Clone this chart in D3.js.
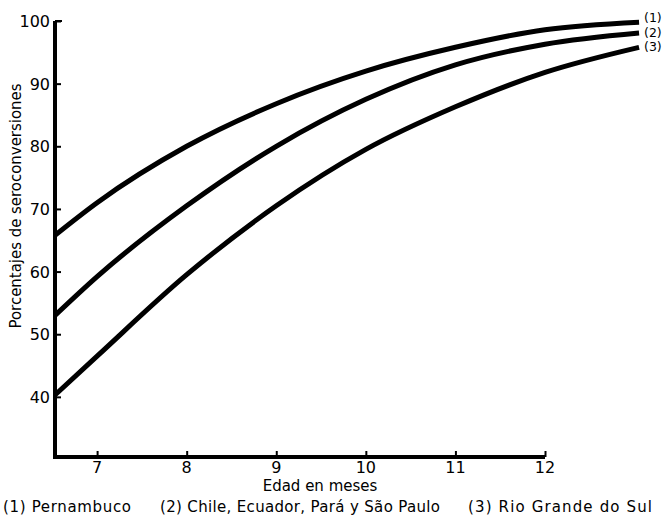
<!DOCTYPE html>
<html>
<head>
<meta charset="utf-8">
<script src="https://cdn.jsdelivr.net/npm/d3@7"></script>
<style>
  body { margin: 0; background: #fff; }
  text { font-family: "DejaVu Sans", "Liberation Sans", sans-serif; fill: #000; }
</style>
</head>
<body>
<div id="chart"></div>
<script>
// data (age in months, % seroconversion)
const months = [6.53, 7, 8, 9, 10, 11, 12, 13.05];
const pernambuco = [65.8, 71.0, 80.0, 86.8, 92.0, 95.8, 98.6, 99.8];
const chileEtc = [53.0, 59.2, 70.5, 80.0, 87.5, 93.0, 96.3, 98.1];
const rioGrande = [40.3, 46.5, 59.5, 70.5, 79.5, 86.3, 91.8, 95.8];
const seriesTags = ["(1)", "(2)", "(3)"];
const xTicks = [7, 8, 9, 10, 11, 12];
const yTicks = [40, 50, 60, 70, 80, 90, 100];
const legendText = ["(1) Pernambuco", "(2) Chile, Ecuador, Pará y São Paulo", "(3) Rio Grande do Sul"];

let width = 664, height = 517;

let svg = d3.select("#chart")
    .append("svg")
    .attr("width", width)
    .attr("height", height);

let x = d3.scaleLinear().domain([6.53, 12]).range([55, 545]);
let y = d3.scaleLinear().domain([30.4, 100]).range([457, 21]);

// curves
let line = d3.line()
    .x((d, i) => x(months[i]))
    .y(d => y(d))
    .curve(d3.curveMonotoneX);

const tagBaseline = [22, 36.5, 50.5];
[pernambuco, chileEtc, rioGrande].forEach((s, k) => {
    svg.append("path")
        .attr("d", line(s))
        .attr("fill", "none")
        .attr("stroke", "#000")
        .attr("stroke-width", 5);

    svg.append("text")
        .attr("x", 644)
        .attr("y", tagBaseline[k])
        .attr("font-size", "12.5px")
        .text(seriesTags[k]);
});

// y axis ticks
let yAxis = svg.append("g")
    .attr("transform", `translate(${x(6.53)},0)`)
    .call(d3.axisRight(y).tickValues(yTicks).tickSize(6).tickFormat(""));
yAxis.select(".domain").remove();
yAxis.selectAll("line").attr("stroke-width", 2);

svg.selectAll(".ylab")
    .data(yTicks)
    .enter()
    .append("text")
    .attr("x", 50)
    .attr("y", d => y(d) + 6)
    .attr("text-anchor", "end")
    .attr("font-size", "16px")
    .text(d => d);

// x axis ticks
let xAxis = svg.append("g")
    .attr("transform", `translate(0,${y(30.4)})`)
    .call(d3.axisTop(x).tickValues(xTicks).tickSize(6).tickFormat(""));
xAxis.select(".domain").remove();
xAxis.selectAll("line").attr("stroke-width", 2);

svg.selectAll(".xlab")
    .data(xTicks)
    .enter()
    .append("text")
    .attr("x", d => x(d))
    .attr("y", 473)
    .attr("text-anchor", "middle")
    .attr("font-size", "16px")
    .text(d => d);

// axis frame lines
svg.append("path")
    .attr("d", `M${x(6.53)},${y(100)}V${y(30.4)}H${x(12)}`)
    .attr("fill", "none")
    .attr("stroke", "#000")
    .attr("stroke-width", 4);
svg.append("line")
    .attr("x1", x(6.53)).attr("x2", x(6.53) + 7)
    .attr("y1", y(100)).attr("y2", y(100))
    .attr("stroke", "#000").attr("stroke-width", 2);

// titles
svg.append("text")
    .attr("x", 320)
    .attr("y", 491)
    .attr("text-anchor", "middle")
    .attr("font-size", "15px")
    .text("Edad en meses");

svg.append("text")
    .attr("transform", "translate(21,206) rotate(-90)")
    .attr("text-anchor", "middle")
    .attr("font-size", "15px")
    .attr("textLength", 245)
    .attr("lengthAdjust", "spacingAndGlyphs")
    .text("Porcentajes de seroconversiones");

// legend line
const legendX = [3, 160, 468];
const legendLen = [128, 280, 184];
legendText.forEach((t, i) => {
    svg.append("text")
        .attr("x", legendX[i])
        .attr("y", 512)
        .attr("font-size", "15px")
        .attr("textLength", legendLen[i])
        .attr("lengthAdjust", "spacing")
        .text(t);
});
</script>
</body>
</html>
